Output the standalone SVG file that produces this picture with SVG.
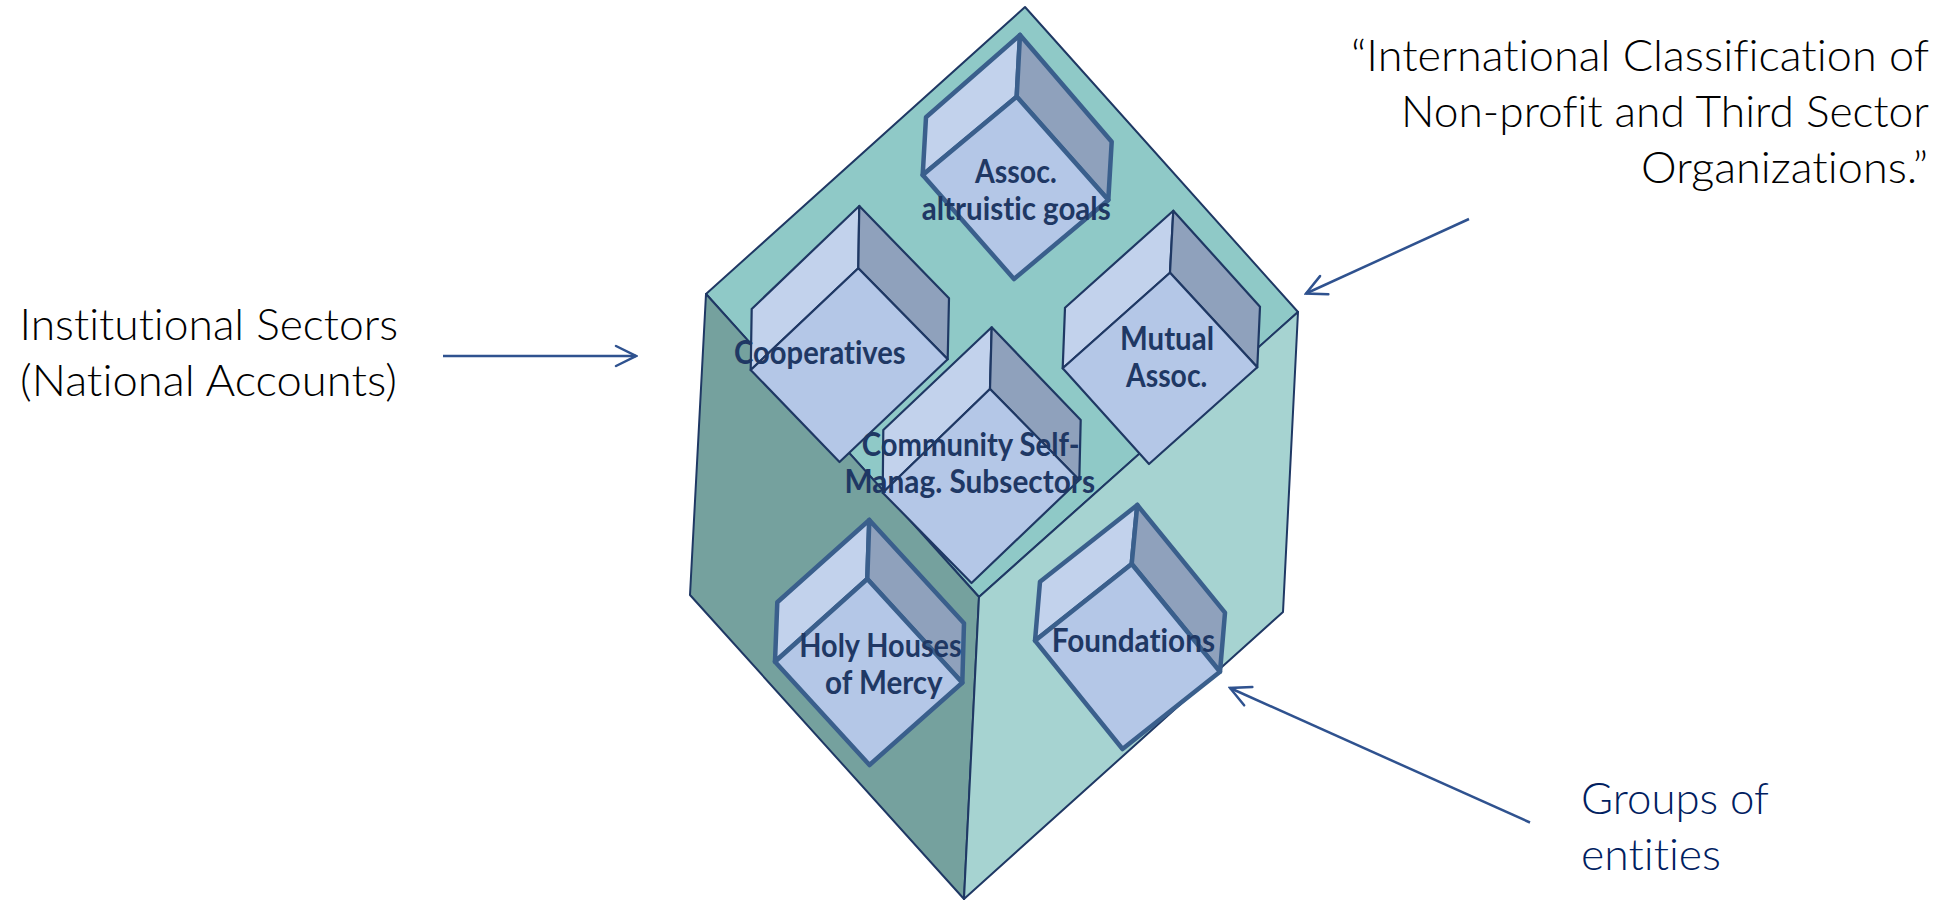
<svg xmlns="http://www.w3.org/2000/svg" width="1946" height="901" viewBox="0 0 1946 901">
<defs>
<style>
.bg{fill:#ffffff}
.big polygon{stroke:#1F3864;stroke-width:2;stroke-linejoin:round}
.top{fill:#8FC9C7}
.lf{fill:#75A19E}
.rf{fill:#A6D3D1}
.cf{fill:#B4C7E7}
.cl{fill:#C2D2EC}
.cr{fill:#8FA1BC}
.thin polygon{stroke:#1F3864;stroke-width:2.2;stroke-linejoin:round}
.thick polygon{stroke:#3A5F8C;stroke-width:4.5;stroke-linejoin:round}
text{font-variant-ligatures:none}
.lbl{font-family:Lato,'Open Sans','Liberation Sans',sans-serif;font-weight:700;font-size:32px;fill:#1F3864}
.txt{font-family:Lato,'Open Sans','Liberation Sans',sans-serif;font-weight:300;font-size:44px;fill:#000000}
.end{text-anchor:end}
.blue{fill:#002060}
.arrow{stroke:#2F528F;stroke-width:2.5;fill:none;marker-end:url(#head)}
</style>
<marker id="head" viewBox="-24 -13 26 26" refX="0" refY="0" markerWidth="26" markerHeight="26" markerUnits="userSpaceOnUse" orient="auto">
<path d="M-20,-10 L0,0 L-20,10" fill="none" stroke="#2F528F" stroke-width="2.5" stroke-linecap="round" stroke-linejoin="miter"/>
</marker>
</defs>
<rect class="bg" x="0" y="0" width="1946" height="901"/>

<g id="sector-block" class="big">
<polygon class="top" points="1025,7 1298,312 979,597 706,294"/>
<polygon class="lf" points="706,294 979,597 964,899 690,595"/>
<polygon class="rf" points="979,597 1298,312 1283,612 964,899"/>
</g>

<g id="cube-assoc" class="thick">
<polygon class="cl" points="1016.7,96.7 922.7,175 926,117.3 1020,35"/>
<polygon class="cr" points="1016.7,96.7 1108.3,200 1111.7,141.7 1020,35"/>
<polygon class="cf" points="1016.7,96.7 922.7,175 1014,279 1108.3,200"/>
</g>

<g id="cube-coop" class="thin">
<polygon class="cl" points="858.3,268.3 750.7,370 751.7,309 859.3,206"/>
<polygon class="cr" points="858.3,268.3 947.7,359.3 949,298.3 859.3,206"/>
<polygon class="cf" points="858.3,268.3 750.7,370 839.5,462 947.7,359.3"/>
</g>

<g id="cube-mutual" class="thin">
<polygon class="cl" points="1170,272.7 1062.7,368.3 1065,307.7 1173.3,210.7"/>
<polygon class="cr" points="1170,272.7 1257.3,367.3 1260,306.7 1173.3,210.7"/>
<polygon class="cf" points="1170,272.7 1062.7,368.3 1149,464 1257.3,367.3"/>
</g>

<g id="cube-community" class="thin">
<polygon class="cl" points="990,389 882.7,492.7 883.3,430 991.7,327.3"/>
<polygon class="cr" points="990,389 1079.3,480 1080.7,420 991.7,327.3"/>
<polygon class="cf" points="990,389 882.7,492.7 971.5,583 1079.3,480"/>
</g>

<g id="cube-holy" class="thick">
<polygon class="cl" points="867.3,579 775,661.7 777.3,602.3 869.3,520"/>
<polygon class="cr" points="867.3,579 962.3,682.7 964,623.3 869.3,520"/>
<polygon class="cf" points="867.3,579 775,661.7 869.5,765 962.3,682.7"/>
</g>

<g id="cube-foundations" class="thick">
<polygon class="cl" points="1131.7,564 1035,640.7 1040,581.7 1137.3,505"/>
<polygon class="cr" points="1131.7,564 1220,671.7 1225,612.7 1137.3,505"/>
<polygon class="cf" points="1131.7,564 1035,640.7 1122.5,749 1220,671.7"/>
</g>

<g id="labels">
<text class="lbl" x="975" y="182.7" textLength="81.7" lengthAdjust="spacingAndGlyphs">Assoc.</text>
<text class="lbl" x="921.7" y="220" textLength="189" lengthAdjust="spacingAndGlyphs">altruistic goals</text>
<text class="lbl" x="734" y="364" textLength="171.7" lengthAdjust="spacingAndGlyphs">Cooperatives</text>
<text class="lbl" x="1120" y="350" textLength="94" lengthAdjust="spacingAndGlyphs">Mutual</text>
<text class="lbl" x="1126" y="386.7" textLength="81.3" lengthAdjust="spacingAndGlyphs">Assoc.</text>
<text class="lbl" x="861.7" y="456" textLength="218" lengthAdjust="spacingAndGlyphs">Community Self-</text>
<text class="lbl" x="844.5" y="493.3" textLength="250.5" lengthAdjust="spacingAndGlyphs">Manag. Subsectors</text>
<text class="lbl" x="799.3" y="657.3" textLength="162.4" lengthAdjust="spacingAndGlyphs">Holy Houses</text>
<text class="lbl" x="825" y="694" textLength="117.7" lengthAdjust="spacingAndGlyphs">of Mercy</text>
<text class="lbl" x="1051.7" y="651.7" textLength="163.3" lengthAdjust="spacingAndGlyphs">Foundations</text>
</g>

<g id="connectors">
<line class="arrow" x1="443" y1="356" x2="636" y2="356"/>
<line class="arrow" x1="1469" y1="219" x2="1306" y2="293.5"/>
<line class="arrow" x1="1530" y1="822.5" x2="1230" y2="688"/>
</g>

<g id="text-institutional">
<text class="txt" x="19.5" y="340" textLength="378.5" lengthAdjust="spacingAndGlyphs">Institutional Sectors</text>
<text class="txt" x="20" y="396" textLength="377" lengthAdjust="spacingAndGlyphs">(National Accounts)</text>
</g>

<g id="text-classification">
<text class="txt end" x="1929" y="71" textLength="578" lengthAdjust="spacingAndGlyphs">“International Classification of</text>
<text class="txt end" x="1929" y="127" textLength="528" lengthAdjust="spacingAndGlyphs">Non-profit and Third Sector</text>
<text class="txt end" x="1928" y="183" textLength="287" lengthAdjust="spacingAndGlyphs">Organizations.”</text>
</g>

<g id="text-groups">
<text class="txt blue" x="1581" y="814" textLength="188" lengthAdjust="spacingAndGlyphs">Groups of</text>
<text class="txt blue" x="1581" y="870" textLength="140" lengthAdjust="spacingAndGlyphs">entities</text>
</g>
</svg>
